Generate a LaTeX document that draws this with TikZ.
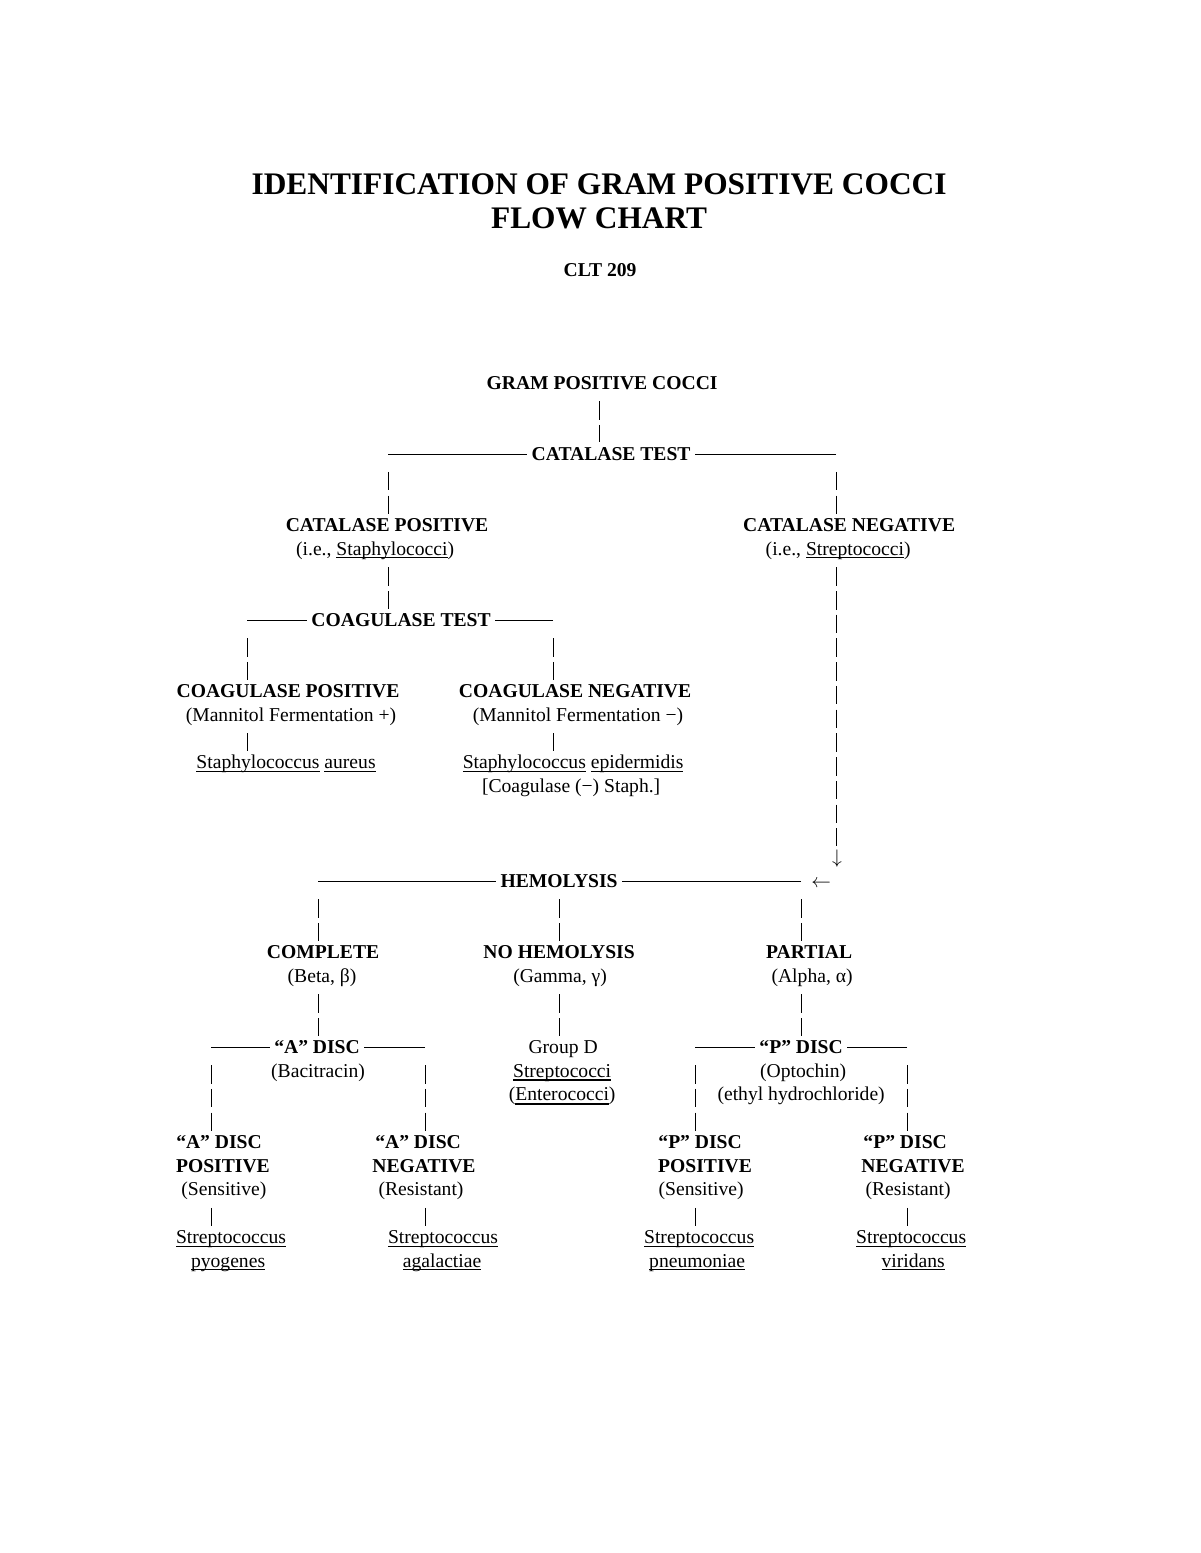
\documentclass[tikz,border=0pt]{standalone}
\usepackage{fontspec}
\setmainfont{Liberation Serif}

\newsavebox{\ulbox}
\newcommand{\uline}[1]{\sbox{\ulbox}{#1}\rlap{\rule[-1.6pt]{\wd\ulbox}{0.45pt}}\usebox{\ulbox}}
\newcommand{\wul}[1]{\sbox{\ulbox}{#1}\rlap{\rule[-2pt]{\wd\ulbox}{0.9pt}}\usebox{\ulbox}}

\begin{document}
\begin{tikzpicture}[x=0.51pt,y=-12.1pt,node distance=12.1pt,line width=0.5pt,
    txt/.style={inner sep=0pt,text height=7pt,text depth=1pt,anchor=base,
      font=\fontsize{10}{12}\selectfont},
    head/.style={txt,font=\fontsize{10}{12}\selectfont\bfseries},
    bar/.style={dash pattern=on 9.44pt off 2.66pt,shorten <=4.95pt,shorten >=1.8pt},
    drop/.style={bar,shorten <=9pt},
    branch/.style={shorten >=2pt}]

    \useasboundingbox (0,-16.393) rectangle (1200,49.052);

    % title
    \node[inner sep=0pt,anchor=base,font=\fontsize{16}{18}\selectfont\bfseries]
      (title) at (599,-8.196) {IDENTIFICATION OF GRAM POSITIVE COCCI};
    \node[inner sep=0pt,anchor=base,font=\fontsize{16}{18}\selectfont\bfseries]
      (sub) at (599,-6.764) {FLOW CHART};
    \node[head] (course) at (600,-4.762) {CLT 209};

    % catalase
    \node[head] (GPC) at (602,0)  {GRAM POSITIVE COCCI};
    \node[head] (CT)  at (611,3)  {CATALASE TEST};
    \node[head] (CP)  at (387,6)  {CATALASE POSITIVE};
    \node[txt]  (cpIe) [below of=CP,xshift=-6.1pt] {(i.e., \uline{Staphylococci})};
    \node[head] (CN)  at (849,6)  {CATALASE NEGATIVE};
    \node[txt]  (cnIe) [below of=CN,xshift=-5.6pt] {(i.e., \uline{Streptococci})};

    % coagulase
    \node[head] (COT) at (401,10) {COAGULASE TEST};
    \node[head] (KP)  at (288,13) {COAGULASE POSITIVE};
    \node[txt]  (kpM) [below of=KP,xshift=1.5pt] {(Mannitol Fermentation +)};
    \node[txt]  (kpS) at (286,16) {\uline{Staphylococcus} \uline{aureus}};
    \node[head] (KN)  at (575,13) {COAGULASE NEGATIVE};
    \node[txt]  (knM) [below of=KN,xshift=1.5pt] {(Mannitol Fermentation −)};
    \node[txt]  (knS) at (573,16) {\uline{Staphylococcus} \uline{epidermidis}};
    \node[txt]  (knC) [below of=knS,xshift=-1pt] {[Coagulase (−) Staph.]};

    % hemolysis
    \node[txt]  (DN)  at (837,20) {$\downarrow$};
    \node[txt]  (LA)  at (821,21) {$\leftarrow$};
    \node[head] (HEM) at (559,21) {HEMOLYSIS};
    \node[head] (CO)  at (323,24) {COMPLETE};
    \node[txt]  (coB) [below of=CO,xshift=-0.5pt] {(Beta, β)};
    \node[head] (NH)  at (559,24) {NO HEMOLYSIS};
    \node[txt]  (nhG) [below of=NH,xshift=0.5pt] {(Gamma, γ)};
    \node[head] (PA)  at (809,24) {PARTIAL};
    \node[txt]  (paA) [below of=PA,xshift=1.5pt] {(Alpha, α)};

    % discs
    \node[head] (AD)  at (317,28) {“A” DISC};
    \node[txt]  (adB) [below of=AD,xshift=0.5pt] {(Bacitracin)};
    \node[txt]  (GD)  at (563,28) {Group D};
    \node[txt]  (gdS) [below of=GD,xshift=-0.5pt] {\wul{Streptococci}};
    \node[txt]  (gdE) [below of=gdS] {(\wul{Enterococci})};
    \node[head] (PD)  at (801,28) {“P” DISC};
    \node[txt]  (pdO) [below of=PD,xshift=1pt] {(Optochin)};
    \node[txt]  (pdE) [below of=pdO,xshift=-1pt] {(ethyl hydrochloride)};

    \node[head] (AP1) at (219,32) {“A” DISC};
    \node[head] (AP2) [below of=AP1,xshift=2pt] {POSITIVE};
    \node[txt]  (AP3) [below of=AP2,xshift=0.5pt] {(Sensitive)};
    \node[txt]  (apS) at (231,36) {\uline{Streptococcus}};
    \node[txt]  (apN) [below of=apS,xshift=-1.5pt] {\uline{pyogenes}};

    \node[head] (AN1) at (418,32) {“A” DISC};
    \node[head] (AN2) [below of=AN1,xshift=3pt] {NEGATIVE};
    \node[txt]  (AN3) [below of=AN2,xshift=-1.5pt] {(Resistant)};
    \node[txt]  (anS) at (443,36) {\uline{Streptococcus}};
    \node[txt]  (anN) [below of=anS,xshift=-0.5pt] {\uline{agalactiae}};

    \node[head] (PP1) at (700,32) {“P” DISC};
    \node[head] (PP2) [below of=PP1,xshift=2.5pt] {POSITIVE};
    \node[txt]  (PP3) [below of=PP2,xshift=-2pt] {(Sensitive)};
    \node[txt]  (ppS) at (699,36) {\uline{Streptococcus}};
    \node[txt]  (ppN) [below of=ppS,xshift=-1pt] {\uline{pneumoniae}};

    \node[head] (PN1) at (905,32) {“P” DISC};
    \node[head] (PN2) [below of=PN1,xshift=4pt] {NEGATIVE};
    \node[txt]  (PN3) [below of=PN2,xshift=-2.5pt] {(Resistant)};
    \node[txt]  (pnS) at (911,36) {\uline{Streptococcus}};
    \node[txt]  (pnN) [below of=pnS,xshift=1pt] {\uline{viridans}};

    % branch ends
    \coordinate (top) at (599,0);
    \coordinate (ctL) at (388,3);
    \coordinate (ctR) at (836,3);
    \coordinate (coL) at (247,10);
    \coordinate (coR) at (553,10);
    \coordinate (heL) at (318,21);
    \coordinate (heR) at (801,21);
    \coordinate (adL) at (211,28);
    \coordinate (adR) at (425,28);
    \coordinate (pdL) at (695,28);
    \coordinate (pdR) at (907,28);

    % horizontal lines
    \draw[branch] (ctL |- CT.west) -- (CT.west);
    \draw[branch] (ctR |- CT.east) -- (CT.east);
    \draw[branch] (coL |- COT.west) -- (COT.west);
    \draw[branch] (coR |- COT.east) -- (COT.east);
    \draw[branch] (heL |- HEM.west) -- (HEM.west);
    \draw[branch] (heR |- HEM.east) -- (HEM.east);
    \draw[branch] (adL |- AD.west) -- (AD.west);
    \draw[branch] (adR |- AD.east) -- (AD.east);
    \draw[branch] (pdL |- PD.west) -- (PD.west);
    \draw[branch] (pdR |- PD.east) -- (PD.east);

    % vertical bars
    \draw[bar]  (top |- GPC.south) -- (top |- CT.north);
    \draw[drop] (ctL |- CT.west) -- (ctL |- CP.north);
    \draw[drop] (ctR |- CT.east) -- (ctR |- CN.north);
    \draw[bar]  (ctL |- cpIe.south) -- (ctL |- COT.north);
    \draw[bar]  (ctR |- cnIe.south) -- (ctR |- DN.north);
    \draw[drop] (coL |- COT.west) -- (coL |- KP.north);
    \draw[drop] (coR |- COT.east) -- (coR |- KN.north);
    \draw[bar]  (coL |- kpM.south) -- (coL |- kpS.north);
    \draw[bar]  (coR |- knM.south) -- (coR |- knS.north);

    \draw[drop] (heL |- HEM.west) -- (heL |- CO.north);
    \draw[bar]  (HEM.south) -- (NH.north);
    \draw[drop] (heR |- HEM.east) -- (heR |- PA.north);
    \draw[bar]  (heL |- coB.south) -- (heL |- AD.north);
    \draw[bar]  (HEM |- nhG.south) -- (HEM |- GD.north);
    \draw[bar]  (heR |- paA.south) -- (heR |- PD.north);

    \draw[drop] (adL |- AD.west) -- (adL |- AP1.north);
    \draw[drop] (adR |- AD.east) -- (adR |- AN1.north);
    \draw[drop] (pdL |- PD.west) -- (pdL |- PP1.north);
    \draw[drop] (pdR |- PD.east) -- (pdR |- PN1.north);
    \draw[bar]  (adL |- AP3.south) -- (adL |- apS.north);
    \draw[bar]  (adR |- AN3.south) -- (adR |- anS.north);
    \draw[bar]  (pdL |- PP3.south) -- (pdL |- ppS.north);
    \draw[bar]  (pdR |- PN3.south) -- (pdR |- pnS.north);

\end{tikzpicture}
\end{document}
